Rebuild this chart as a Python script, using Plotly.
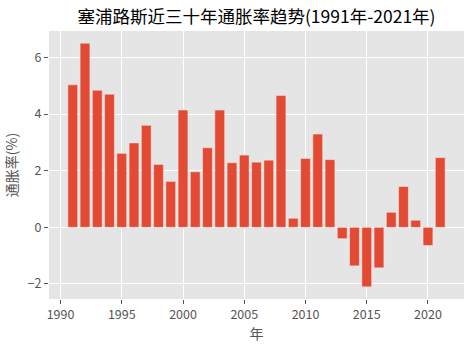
import plotly.graph_objects as go

years = list(range(1991, 2022))
inflation = [5.03, 6.50, 4.84, 4.70, 2.61, 2.98, 3.60, 2.22, 1.62, 4.14,
             1.96, 2.81, 4.14, 2.28, 2.55, 2.30, 2.37, 4.65, 0.32, 2.43,
             3.29, 2.39, -0.40, -1.36, -2.10, -1.43, 0.53, 1.44, 0.25, -0.64,
             2.46]

title_text = "塞浦路斯近三十年通胀率趋势(1991年-2021年)"
x_label = "年"
y_label = "通胀率(%)"
x_ticks = [1990, 1995, 2000, 2005, 2010, 2015, 2020]
y_ticks = [-2, 0, 2, 4, 6]

FONT = "Noto Sans CJK SC"

fig = go.Figure(go.Bar(
    x=years, y=inflation, width=0.8,
    marker=dict(color="#E24A33", line=dict(color="#EEEEEE", width=0.5)),
))

axis_common = dict(
    showgrid=True, gridcolor="white", gridwidth=1,
    zeroline=False, showline=False,
    ticks="outside", ticklen=4, tickcolor="#555555", tickwidth=1,
    tickfont=dict(family=FONT, size=12.5, color="#555555"),
)

fig.update_layout(
    width=474, height=347,
    margin=dict(l=49, r=10, t=31, b=48),
    paper_bgcolor="white", plot_bgcolor="#E5E5E5",
    showlegend=False,
    title=dict(text=title_text, x=(49 + 464) / 2 / 474, xanchor="center",
               y=1 - 17 / 347, yanchor="middle",
               font=dict(family=FONT, size=17.5, color="black")),
    xaxis=dict(range=[1989.06, 2022.94], tickvals=x_ticks,
               title=dict(text=x_label, font=dict(family=FONT, size=14, color="#555555"),
                          standoff=3),
               **axis_common),
    yaxis=dict(range=[-2.53, 6.93], tickvals=y_ticks,
               title=dict(text=y_label, font=dict(family=FONT, size=14, color="#555555"),
                          standoff=6),
               **axis_common),
)

fig.write_html("out.html")
